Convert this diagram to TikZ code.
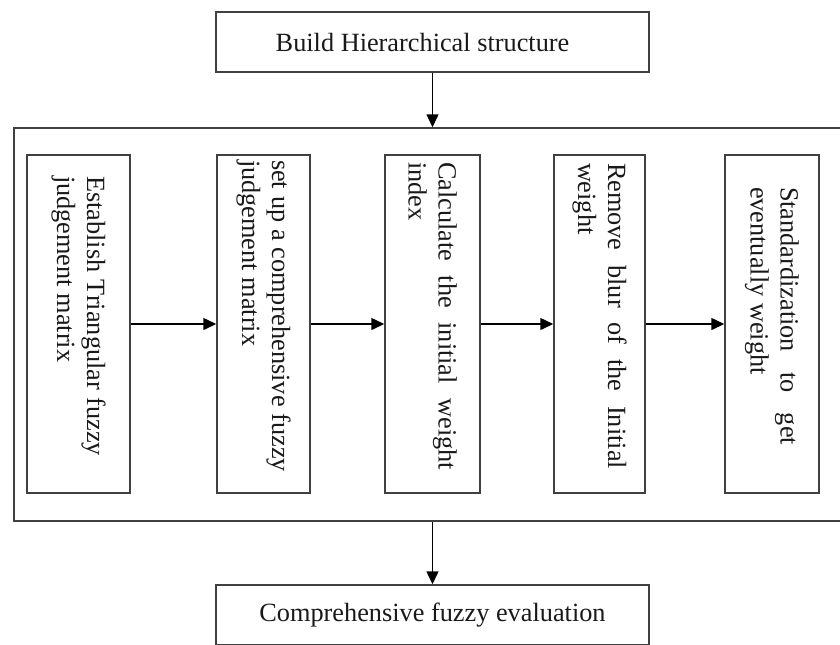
\documentclass[tikz,border=0pt]{standalone}
\usepackage{fontspec}
\setmainfont{Liberation Serif}
\usetikzlibrary{arrows.meta}

\begin{document}
\begin{tikzpicture}[x=0.5pt, y=-0.5pt,
    box/.style={draw=black!75, line width=0.75pt, inner sep=0pt},
    stagebox/.style={box, minimum height=169pt},
    stagetext/.style={rotate=-90, align=justify, inner sep=0pt, text=black!90, font=\fontsize{13.15pt}{15pt}\selectfont},
    endbox/.style={box, minimum width=216.5pt, minimum height=30pt, text=black!90, font=\fontsize{13.15pt}{15pt}\selectfont},
    flow/.style={draw=black, line width=0.75pt, -{Triangle[length=6.5pt, width=6pt]}}]
    \useasboundingbox (0,0) rectangle (840,644);
    \node[endbox] (build) at (432.5,42) {Build Hierarchical structure\hspace*{10pt}};
    \node[box, minimum width=415pt, minimum height=196.5pt] (frame) at (429,324.5) {};
    \node[endbox] (result) at (432.5,615) {Comprehensive fuzzy evaluation};
    \node[stagebox, minimum width=51.5pt] (s1) at (78.5,324) {};
    \node[stagebox, minimum width=46.5pt] (s2) at (263.5,324) {};
    \node[stagebox, minimum width=47.5pt] (s3) at (432.5,324) {};
    \node[stagebox, minimum width=45.5pt] (s4) at (599.5,324) {};
    \node[stagebox, minimum width=47pt] (s5) at (772,324) {};
    \node[stagetext, text width=140pt] (t1) at ([yshift=4pt]s1.center) {Establish Triangular fuzzy\linebreak judgement matrix};
    \node[stagetext, text width=156pt] (t2) at ([yshift=4pt]s2.center) {set up a comprehensive fuzzy\linebreak judgement matrix};
    \node[stagetext, text width=154pt] (t3) at ([yshift=4pt]s3.center) {Calculate the initial weight\linebreak index};
    \node[stagetext, text width=153pt] (t4) at ([yshift=4pt]s4.center) {Remove blur of the Initial\linebreak weight};
    \node[stagetext, text width=129pt] (t5) at ([yshift=4pt]s5.center) {Standardization to get\linebreak eventually weight};
    \draw[flow] (build.south) -- (build.south |- frame.north);
    \draw[flow] (s1) -- (s2);
    \draw[flow] (s2) -- (s3);
    \draw[flow] (s3) -- (s4);
    \draw[flow] (s4) -- (s5);
    \draw[flow] (build.south |- frame.south) -- (result.north);
\end{tikzpicture}
\end{document}
